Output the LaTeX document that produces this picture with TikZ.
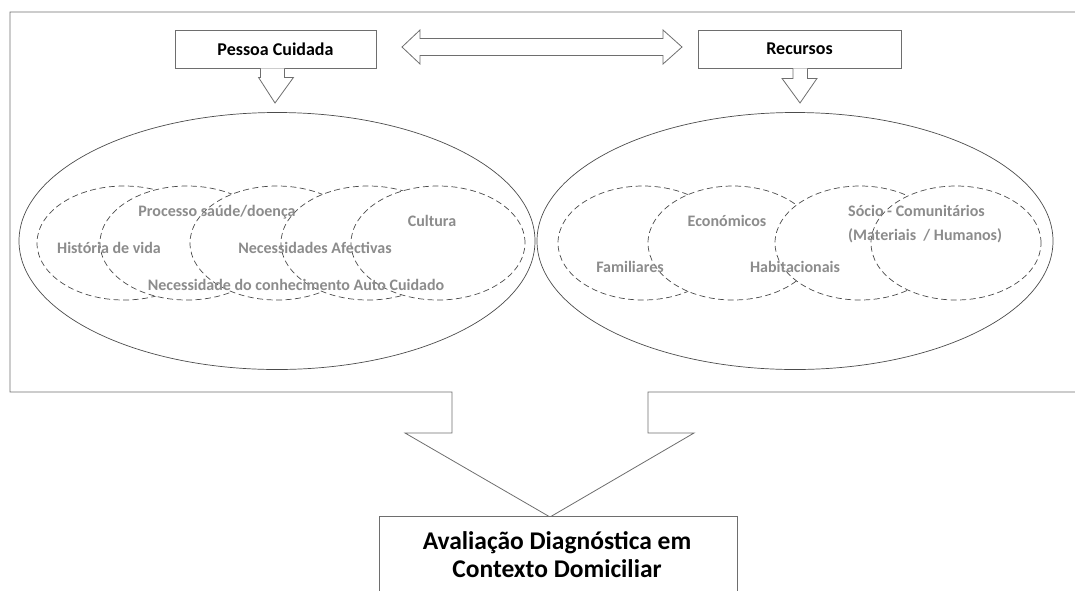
\documentclass[tikz,border=0pt]{standalone}
\usepackage{fontspec}
\setmainfont{Carlito}
\usetikzlibrary{calc,shapes.geometric}
\definecolor{edge}{HTML}{6E6E6E}
\definecolor{dashgray}{HTML}{4A4A4A}
\definecolor{softtext}{HTML}{8C8C8C}
\tikzset{
  block/.style={draw=edge, line width=0.8pt, fill=white, font=\bfseries\fontsize{18}{20}\selectfont, inner sep=0pt},
  bigarrow/.style={draw=edge, line width=0.8pt, fill=white},
  domainring/.style={draw=black!70, line width=0.7pt, fill=white},
  facet/.style={draw=dashgray, line width=0.7pt, dash pattern=on 6pt off 3.5pt, fill=white},
  facetlabel/.style={text=softtext, font=\bfseries\fontsize{16}{24}\selectfont, inner sep=0pt},
  resultlabel/.style={font=\bfseries\fontsize{25.5}{28}\selectfont, align=center, inner sep=0pt}
}
\begin{document}
\begin{tikzpicture}[x=1pt,y=-1pt]
\useasboundingbox (0,0) rectangle (1075,590);
\clip (0,0) rectangle (1075,590);

% outer frame with the funnel arrow cut into its lower edge
\coordinate (fr) at (1090,12);
\draw[bigarrow, fill=none] (fr) -- (10,12) -- (10,392) -- (452,392) -- (452,433)
  -- (405,433) -- (550,517) -- (694,433) -- (648,433) -- (648,392) -- (1090,392);

% top boxes
\node[block, minimum width=201pt, minimum height=38pt] (pc) at (275.5,49) {Pessoa Cuidada};
\node[block, minimum width=203pt, minimum height=38pt] (rc) at (799.5,49) {Recursos};

% two-way arrow between the boxes
\coordinate (la) at (402,47);
\coordinate (ra) at (682,47);
\draw[bigarrow] (la) -- ++(18,-17) -- ++(0,8.5) -- ($(ra)+(-19,-8.5)$) -- ++(0,-8.5)
  -- (ra) -- ++(-19,17) -- ++(0,-8.5) -- ($(la)+(18,8.5)$) -- ++(0,8.5) -- cycle;

% down arrows from the boxes into the domains
\draw[bigarrow] ($(pc.south)+(-15,0)$) -- ++(0,9) -- ++(-2,0) -- (275,103)
  -- ($(pc.south)+(18,9)$) -- ++(-9,0) -- ($(pc.south)+(9,0)$);
\draw[bigarrow] ($(rc.south)+(-6.5,0)$) -- ++(0,10) -- ++(-11,0) -- (800,103)
  -- ($(rc.south)+(17.5,10)$) -- ++(-9.5,0) -- ($(rc.south)+(8,0)$);

% domain ellipses
\node[domainring, ellipse, minimum width=516pt, minimum height=257pt] (left) at (277,241) {};
\node[domainring, ellipse, minimum width=516pt, minimum height=257pt] (right) at (795,241) {};

% facets of the cared person
\foreach \cx [count=\i] in {124,187,277,368,438}
  \node[facet, ellipse, minimum width=174pt, minimum height=114pt] (p\i) at (\cx,243) {};
% facets of the resources
\foreach \cx [count=\i] in {643,733,860,956}
  \node[facet, ellipse, minimum width=170pt, minimum height=114pt] (r\i) at (\cx,243) {};

% facet labels
\node[facetlabel] (t1) at (217,212) {Processo saúde/doença};
\node[facetlabel] (t2) at (432,221) {Cultura};
\node[facetlabel] (t3) at (109,248) {História de vida};
\node[facetlabel] (t4) at (315,248) {Necessidades Afectivas};
\node[facetlabel] (t5) at (296,285) {Necessidade do conhecimento Auto Cuidado};
\node[facetlabel] (t6) at (727,221) {Económicos};
\node[facetlabel] (t7) at (630,267) {Familiares};
\node[facetlabel] (t8) at (795,267) {Habitacionais};
\node[facetlabel, anchor=west, align=left] (t9) at (848,224) {Sócio - Comunitários\\(Materiais~ / Humanos)};

% result box
\node[draw=edge, line width=0.8pt, fill=white, minimum width=358pt, minimum height=120pt, inner sep=0pt, anchor=north] (res) at (558,516) {};
\node[resultlabel] (rt) at (557,555) {Avaliação Diagnóstica em\\Contexto Domiciliar};
\end{tikzpicture}
\end{document}
